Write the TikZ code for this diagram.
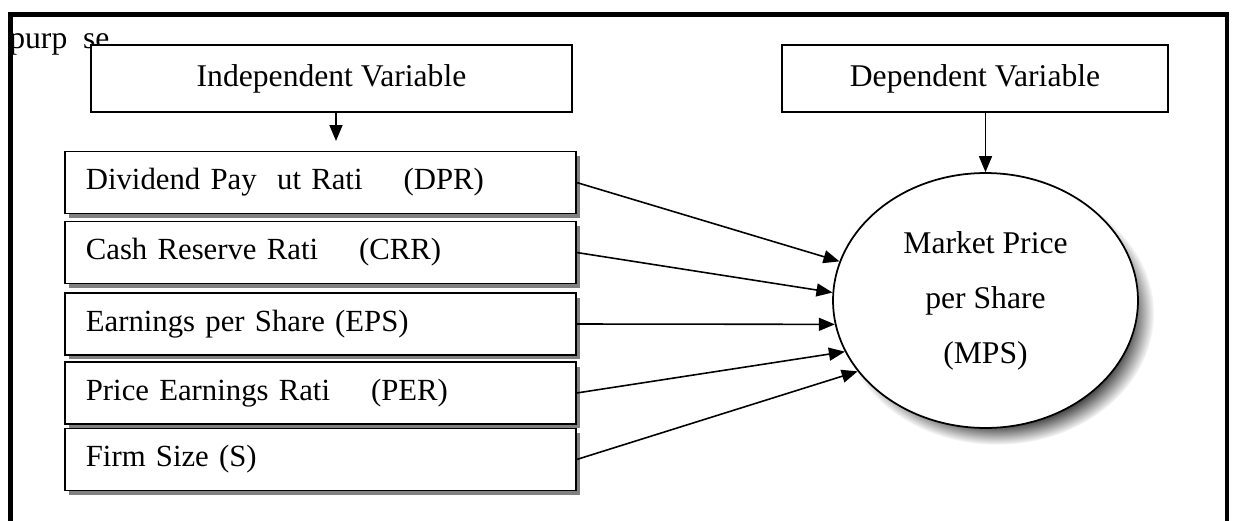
\documentclass[tikz,border=0pt]{standalone}
\usepackage{fontspec}
\setmainfont{Liberation Serif}
\usetikzlibrary{arrows.meta,shapes.geometric,shadows}

\tikzset{
	headbox/.style={draw, line width=1pt, fill=white, minimum height=1.34cm, inner sep=0pt},
	varbox/.style={draw, line width=1pt, fill=white, anchor=west, minimum height=1.24cm,
		text width=9.38cm, inner xsep=0.42cm, align=left,
		font=\fontsize{17.5}{21}\selectfont,
		drop shadow={shadow xshift=0.09cm, shadow yshift=-0.09cm, fill=black!50, opacity=1}},
	arr/.style={line width=0.9pt, -{Triangle[length=0.32cm, width=0.26cm]}},
}

\begin{document}
\begin{tikzpicture}[x=0.02cm, y=-0.02cm, font=\fontsize{18}{21.6}\selectfont]
	\useasboundingbox (0,0) rectangle (1235,521);
	\clip (0,0) rectangle (1235,521);
	\fill[white] (0,0) rectangle (1235,521);

	% Draw the outer frame (open at the bottom)
	\draw[line width=2.5pt] (10.5,560) -- (10.5,14.5) -- (1227,14.5) -- (1227,560);
	\node[anchor=base west, inner sep=0pt] (purp) at (9,48) {purp\ \ se};

	% Draw the two headings
	\node[headbox, minimum width=9.62cm] (indep) at (331.5,78.5) {Independent Variable};
	\node[headbox, minimum width=7.72cm] (dep) at (975,78.5) {Dependent Variable};

	% Draw the independent variables
	\node[varbox] (dpr) at (64,182.5) {Dividend Pay\ \ ut Rati\ \ \ \ (DPR)};
	\node[varbox] (crr) at (64,252.5) {Cash Reserve Rati\ \ \ \ (CRR)};
	\node[varbox] (eps) at (64,324) {Earnings per Share (EPS)};
	\node[varbox] (per) at (64,393) {Price Earnings Rati\ \ \ \ (PER)};
	\node[varbox] (fs) at (64,459.5) {Firm Size (S)};

	% Draw the dependent variable
	\node[ellipse, draw, line width=1pt, fill=white, inner sep=0pt,
		minimum width=6.1cm, minimum height=5.1cm, align=center,
		font=\fontsize{18}{31.3}\selectfont,
		circular drop shadow={shadow xshift=0.22cm, shadow yshift=-0.25cm, shadow scale=1.03, fill=black!70}]
		(mps) at (985.5,300.5) {Market Price\\per Share\\(MPS)};

	% Draw arrows
	\coordinate (indtip) at (336,141);
	\draw[arr] (indep.south -| indtip) -- (indtip);
	\draw[arr] (dep.south -| mps.north) -- (mps.north);
	\draw[arr] (dpr.east) -- (mps.165);
	\draw[arr] (crr.east) -- (mps.177);
	\draw[arr] (eps.east) -- (mps.189);
	\draw[arr] (per.east) -- (mps.200);
	\draw[arr] (fs.east) -- (mps.209);
\end{tikzpicture}
\end{document}
